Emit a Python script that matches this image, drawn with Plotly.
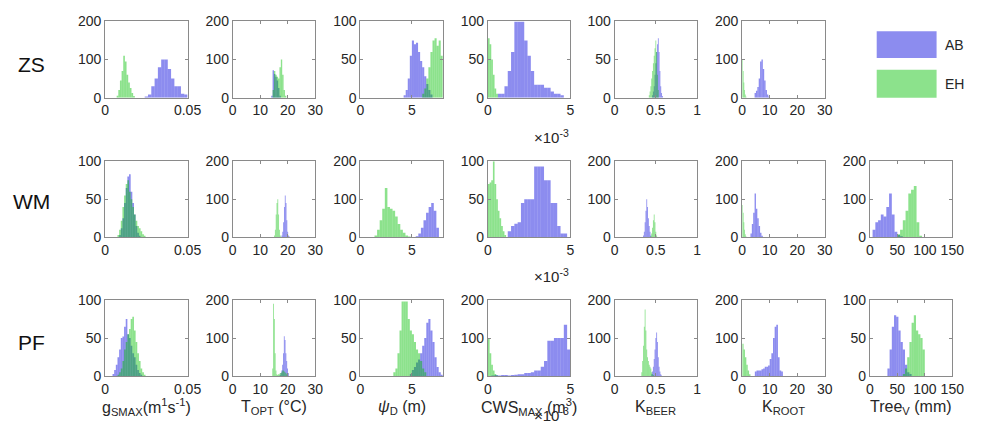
import plotly.graph_objects as go

# ---------------- data (bin centres and counts) ----------------
# ZS row
ZS_GSMAX_AB_BINS = [0.025, 0.027, 0.029, 0.031, 0.033, 0.035, 0.037, 0.039, 0.041, 0.043, 0.045, 0.047, 0.049]
ZS_GSMAX_AB_COUNTS = [3, 8, 30, 50, 80, 100, 100, 75, 50, 30, 30, 10, 8]
ZS_GSMAX_EH_BINS = [0.0075, 0.0085, 0.0095, 0.0105, 0.0115, 0.0125, 0.0135, 0.0145, 0.0155, 0.0165, 0.0175]
ZS_GSMAX_EH_COUNTS = [5, 20, 45, 70, 110, 95, 60, 40, 25, 12, 4]

ZS_TOPT_AB_BINS = [14.25, 14.75, 15.25, 15.75, 16.25, 16.75, 17.25]
ZS_TOPT_AB_COUNTS = [5, 72, 62, 55, 45, 25, 5]
ZS_TOPT_EH_BINS = [14.75, 15.25, 15.75, 16.25, 16.75, 17.25, 17.75, 18.25, 18.75, 19.25]
ZS_TOPT_EH_COUNTS = [20, 70, 60, 55, 50, 80, 100, 60, 20, 5]

ZS_PSID_AB_BINS = [4.3, 4.5, 4.7, 4.9, 5.1, 5.3, 5.5, 5.7, 5.9, 6.1, 6.3, 6.5, 6.7, 6.9]
ZS_PSID_AB_COUNTS = [3, 10, 25, 55, 75, 70, 72, 60, 48, 40, 28, 18, 10, 4]
ZS_PSID_EH_BINS = [6.1, 6.3, 6.5, 6.7, 6.9, 7.1, 7.3, 7.5, 7.7, 7.9]
ZS_PSID_EH_COUNTS = [5, 12, 25, 40, 60, 75, 78, 68, 75, 55]

ZS_CWS_AB_BINS = [0.0007, 0.0009, 0.0011, 0.0013, 0.0015, 0.0017, 0.0019, 0.0021, 0.0023, 0.0025,
                  0.0027, 0.0029, 0.0031, 0.0033, 0.0035, 0.0037, 0.0039, 0.0041, 0.0043, 0.0045]
ZS_CWS_AB_COUNTS = [5, 5, 15, 35, 60, 100, 100, 100, 75, 55, 35, 17, 17, 17, 13, 13, 8, 5, 5, 3]
ZS_CWS_EH_BINS = [0.00005, 0.00015, 0.00025, 0.00035, 0.00045, 0.00055]
ZS_CWS_EH_COUNTS = [78, 70, 50, 30, 12, 5]

ZS_KBEER_AB_BINS = [0.46, 0.47, 0.48, 0.49, 0.50, 0.51, 0.52, 0.53, 0.54, 0.55, 0.56, 0.57, 0.58]
ZS_KBEER_AB_COUNTS = [3, 8, 15, 30, 45, 60, 70, 78, 60, 35, 15, 6, 2]
ZS_KBEER_EH_BINS = [0.42, 0.43, 0.44, 0.45, 0.46, 0.47, 0.48, 0.49, 0.50, 0.51, 0.52, 0.53]
ZS_KBEER_EH_COUNTS = [3, 8, 15, 25, 35, 45, 55, 65, 75, 60, 30, 10]

ZS_KROOT_AB_BINS = [4.75, 5.25, 5.75, 6.25, 6.75, 7.25, 7.75, 8.25, 8.75, 9.25, 9.75]
ZS_KROOT_AB_COUNTS = [12, 18, 28, 50, 95, 100, 75, 45, 20, 8, 3]
ZS_KROOT_EH_BINS = [0.125, 0.375, 0.625, 0.875, 1.125, 1.375]
ZS_KROOT_EH_COUNTS = [100, 70, 40, 20, 8, 3]

# WM row
WM_GSMAX_AB_BINS = [0.009, 0.010, 0.011, 0.012, 0.013, 0.014, 0.015, 0.016, 0.017, 0.018, 0.019, 0.020, 0.021]
WM_GSMAX_AB_COUNTS = [3, 12, 25, 45, 65, 80, 83, 60, 45, 30, 15, 6, 2]
WM_GSMAX_EH_BINS = [0.008, 0.009, 0.010, 0.011, 0.012, 0.013, 0.014, 0.015, 0.016, 0.017, 0.018,
                    0.019, 0.020, 0.021, 0.022, 0.023, 0.024]
WM_GSMAX_EH_COUNTS = [3, 10, 22, 40, 55, 70, 75, 60, 50, 40, 30, 22, 15, 12, 8, 4, 2]

WM_TOPT_AB_BINS = [17.9, 18.2, 18.5, 18.8, 19.1, 19.4, 19.7, 20.0, 20.3, 20.6]
WM_TOPT_AB_COUNTS = [5, 15, 40, 80, 110, 90, 45, 15, 5, 2]
WM_TOPT_EH_BINS = [15.2, 15.5, 15.8, 16.1, 16.4, 16.7, 17.0, 17.3]
WM_TOPT_EH_COUNTS = [5, 20, 60, 90, 100, 60, 20, 5]

WM_PSID_AB_BINS = [5.5, 5.75, 6.0, 6.25, 6.5, 6.75, 7.0, 7.25, 7.5]
WM_PSID_AB_COUNTS = [3, 10, 25, 45, 65, 80, 90, 70, 25]
WM_PSID_EH_BINS = [1.5, 1.75, 2.0, 2.25, 2.5, 2.75, 3.0, 3.25, 3.5, 3.75, 4.0, 4.25, 4.5, 4.75]
WM_PSID_EH_COUNTS = [5, 20, 45, 75, 130, 80, 75, 70, 55, 35, 20, 12, 5, 2]

WM_CWS_AB_BINS = [0.0013, 0.0015, 0.0017, 0.0019, 0.0021, 0.0023, 0.0025, 0.0027, 0.0029,
                  0.0031, 0.0033, 0.0035, 0.0037, 0.0039, 0.0041, 0.0043, 0.0045, 0.0047]
WM_CWS_AB_COUNTS = [8, 15, 18, 20, 45, 50, 50, 50, 93, 93, 93, 75, 75, 45, 45, 15, 5, 5]
WM_CWS_EH_BINS = [0.00005, 0.00015, 0.00025, 0.00035, 0.00045, 0.00055, 0.00065, 0.00075, 0.00085, 0.00095, 0.00105]
WM_CWS_EH_COUNTS = [70, 72, 75, 100, 70, 50, 35, 25, 15, 8, 3]

WM_KBEER_AB_BINS = [0.35, 0.36, 0.37, 0.38, 0.39, 0.40, 0.41, 0.42, 0.43, 0.44]
WM_KBEER_AB_COUNTS = [5, 15, 40, 70, 100, 80, 50, 30, 15, 5]
WM_KBEER_EH_BINS = [0.44, 0.45, 0.46, 0.47, 0.48, 0.49, 0.50, 0.51]
WM_KBEER_EH_COUNTS = [3, 10, 25, 45, 60, 40, 15, 5]

WM_KROOT_AB_BINS = [3.25, 3.75, 4.25, 4.75, 5.25, 5.75, 6.25, 6.75, 7.25]
WM_KROOT_AB_COUNTS = [10, 35, 65, 115, 75, 50, 30, 12, 4]
WM_KROOT_EH_BINS = [0.125, 0.375, 0.625, 0.875, 1.125, 1.375]
WM_KROOT_EH_COUNTS = [85, 65, 40, 20, 8, 3]

WM_TREEV_AB_BINS = [7.5, 12.5, 17.5, 22.5, 27.5, 32.5, 37.5, 42.5, 47.5, 52.5, 57.5]
WM_TREEV_AB_COUNTS = [20, 40, 45, 60, 55, 80, 115, 60, 15, 6, 3]
WM_TREEV_EH_BINS = [52.5, 57.5, 62.5, 67.5, 72.5, 77.5, 82.5, 87.5, 92.5]
WM_TREEV_EH_COUNTS = [8, 20, 45, 70, 115, 125, 135, 40, 4]

# PF row
PF_GSMAX_AB_BINS = [0.005, 0.006, 0.007, 0.008, 0.009, 0.010, 0.011, 0.012, 0.013, 0.014, 0.015,
                    0.016, 0.017, 0.018, 0.019, 0.020, 0.021, 0.022]
PF_GSMAX_AB_COUNTS = [3, 8, 15, 25, 35, 50, 52, 65, 75, 55, 50, 40, 30, 25, 15, 8, 4, 2]
PF_GSMAX_EH_BINS = [0.008, 0.009, 0.010, 0.011, 0.012, 0.013, 0.014, 0.015, 0.016, 0.017, 0.018,
                    0.019, 0.020, 0.021, 0.022, 0.023, 0.024]
PF_GSMAX_EH_COUNTS = [2, 5, 10, 20, 35, 45, 55, 62, 75, 78, 60, 45, 30, 20, 10, 5, 2]

PF_TOPT_AB_BINS = [17.25, 17.55, 17.85, 18.15, 18.45, 18.75, 19.05, 19.35, 19.65, 19.95, 20.25]
PF_TOPT_AB_COUNTS = [3, 8, 15, 30, 60, 105, 95, 60, 40, 20, 8]
PF_TOPT_EH_BINS = [14.55, 14.85, 15.15, 15.45, 15.75, 16.05, 16.35, 16.65, 16.95, 17.25, 17.55,
                   17.85, 18.15, 18.45, 18.75, 19.05, 19.35, 19.65, 19.95]
PF_TOPT_EH_COUNTS = [20, 190, 150, 60, 15, 5, 3, 5, 5, 8, 8, 10, 15, 15, 12, 10, 8, 5, 3]

PF_PSID_AB_BINS = [4.9, 5.1, 5.3, 5.5, 5.7, 5.9, 6.1, 6.3, 6.5, 6.7, 6.9, 7.1, 7.3, 7.5, 7.7, 7.9]
PF_PSID_AB_COUNTS = [3, 8, 12, 18, 22, 30, 40, 50, 70, 75, 60, 45, 25, 12, 5, 2]
PF_PSID_EH_BINS = [3.3, 3.5, 3.7, 3.9, 4.1, 4.3, 4.5, 4.7, 4.9, 5.1, 5.3, 5.5, 5.7, 5.9, 6.1, 6.3]
PF_PSID_EH_COUNTS = [5, 10, 30, 60, 98, 98, 98, 75, 60, 55, 45, 35, 30, 20, 10, 5]

PF_CWS_AB_BINS = [0.0003, 0.0005, 0.0007, 0.0009, 0.0011, 0.0013, 0.0015, 0.0017, 0.0019, 0.0021,
                  0.0023, 0.0025, 0.0027, 0.0029, 0.0031, 0.0033, 0.0035, 0.0037, 0.0039, 0.0041,
                  0.0043, 0.0045, 0.0047, 0.0049]
PF_CWS_AB_COUNTS = [2, 3, 2, 3, 3, 2, 3, 4, 5, 5, 8, 8, 10, 15, 15, 25, 40, 93, 93, 100, 100, 100, 135, 70]
PF_CWS_EH_BINS = [0.00005, 0.00015, 0.00025, 0.00035, 0.00045, 0.00055]
PF_CWS_EH_COUNTS = [100, 60, 30, 15, 6, 2]

PF_KBEER_AB_BINS = [0.45, 0.46, 0.47, 0.48, 0.49, 0.50, 0.51, 0.52, 0.53, 0.54, 0.55, 0.56, 0.57]
PF_KBEER_AB_COUNTS = [5, 12, 25, 45, 70, 100, 115, 90, 50, 25, 12, 5, 2]
PF_KBEER_EH_BINS = [0.33, 0.34, 0.35, 0.36, 0.37, 0.38, 0.39, 0.40, 0.41, 0.42, 0.43, 0.44, 0.45, 0.46, 0.47]
PF_KBEER_EH_COUNTS = [10, 40, 80, 130, 175, 120, 70, 50, 40, 30, 25, 20, 10, 5, 3]

PF_KROOT_AB_BINS = [4.9, 5.5, 6.1, 6.7, 7.3, 7.9, 8.5, 9.1, 9.7, 10.3, 10.9, 11.5, 12.1, 12.7, 13.3, 13.9, 14.5]
PF_KROOT_AB_COUNTS = [12, 15, 15, 15, 18, 20, 25, 25, 28, 45, 60, 100, 130, 135, 50, 15, 12]
PF_KROOT_EH_BINS = [0.25, 0.75, 1.25, 1.75, 2.25, 2.75]
PF_KROOT_EH_COUNTS = [85, 70, 50, 30, 15, 5]

PF_TREEV_AB_BINS = [34, 38, 42, 46, 50, 54, 58, 62, 66, 70, 74]
PF_TREEV_AB_COUNTS = [10, 35, 65, 80, 78, 60, 45, 35, 15, 5, 3]
PF_TREEV_EH_BINS = [62, 66, 70, 74, 78, 82, 86, 90, 94, 98]
PF_TREEV_EH_COUNTS = [3, 10, 25, 45, 70, 80, 60, 55, 50, 35]

# labels / axis ticks
SITES = ["ZS", "WM", "PF"]
SERIES = ["AB", "EH"]
X_TITLES = ["g<sub>SMAX</sub>(m<sup>1</sup>s<sup>-1</sup>)", "T<sub>OPT</sub> (°C)", "<i>ψ</i><sub>D</sub> (m)",
            "CWS<sub>MAX</sub> (m<sup>3</sup>)", "K<sub>BEER</sub>", "K<sub>ROOT</sub>", "Tree<sub>V</sub> (mm)"]
X_RANGES = [[0, 0.05], [0, 30], [0, 8], [0, 0.005], [0, 1], [0, 30], [0, 150]]
X_TICKVALS = [[0, 0.05], [0, 10, 20, 30], [0, 5], [0, 0.005], [0, 0.5, 1], [0, 10, 20, 30], [0, 50, 100, 150]]
X_TICKTEXT = [["0", "0.05"], ["0", "10", "20", "30"], ["0", "5"], ["0", "5"], ["0", "0.5", "1"],
              ["0", "10", "20", "30"], ["0", "50", "100", "150"]]
Y_MAX = [[200, 200, 100, 100, 100, 200, None],
         [100, 200, 200, 100, 200, 200, 200],
         [100, 200, 100, 200, 200, 200, 100]]

PANELS = {
    (0, 0): (ZS_GSMAX_AB_BINS, ZS_GSMAX_AB_COUNTS, ZS_GSMAX_EH_BINS, ZS_GSMAX_EH_COUNTS),
    (0, 1): (ZS_TOPT_AB_BINS, ZS_TOPT_AB_COUNTS, ZS_TOPT_EH_BINS, ZS_TOPT_EH_COUNTS),
    (0, 2): (ZS_PSID_AB_BINS, ZS_PSID_AB_COUNTS, ZS_PSID_EH_BINS, ZS_PSID_EH_COUNTS),
    (0, 3): (ZS_CWS_AB_BINS, ZS_CWS_AB_COUNTS, ZS_CWS_EH_BINS, ZS_CWS_EH_COUNTS),
    (0, 4): (ZS_KBEER_AB_BINS, ZS_KBEER_AB_COUNTS, ZS_KBEER_EH_BINS, ZS_KBEER_EH_COUNTS),
    (0, 5): (ZS_KROOT_AB_BINS, ZS_KROOT_AB_COUNTS, ZS_KROOT_EH_BINS, ZS_KROOT_EH_COUNTS),
    (1, 0): (WM_GSMAX_AB_BINS, WM_GSMAX_AB_COUNTS, WM_GSMAX_EH_BINS, WM_GSMAX_EH_COUNTS),
    (1, 1): (WM_TOPT_AB_BINS, WM_TOPT_AB_COUNTS, WM_TOPT_EH_BINS, WM_TOPT_EH_COUNTS),
    (1, 2): (WM_PSID_AB_BINS, WM_PSID_AB_COUNTS, WM_PSID_EH_BINS, WM_PSID_EH_COUNTS),
    (1, 3): (WM_CWS_AB_BINS, WM_CWS_AB_COUNTS, WM_CWS_EH_BINS, WM_CWS_EH_COUNTS),
    (1, 4): (WM_KBEER_AB_BINS, WM_KBEER_AB_COUNTS, WM_KBEER_EH_BINS, WM_KBEER_EH_COUNTS),
    (1, 5): (WM_KROOT_AB_BINS, WM_KROOT_AB_COUNTS, WM_KROOT_EH_BINS, WM_KROOT_EH_COUNTS),
    (1, 6): (WM_TREEV_AB_BINS, WM_TREEV_AB_COUNTS, WM_TREEV_EH_BINS, WM_TREEV_EH_COUNTS),
    (2, 0): (PF_GSMAX_AB_BINS, PF_GSMAX_AB_COUNTS, PF_GSMAX_EH_BINS, PF_GSMAX_EH_COUNTS),
    (2, 1): (PF_TOPT_AB_BINS, PF_TOPT_AB_COUNTS, PF_TOPT_EH_BINS, PF_TOPT_EH_COUNTS),
    (2, 2): (PF_PSID_AB_BINS, PF_PSID_AB_COUNTS, PF_PSID_EH_BINS, PF_PSID_EH_COUNTS),
    (2, 3): (PF_CWS_AB_BINS, PF_CWS_AB_COUNTS, PF_CWS_EH_BINS, PF_CWS_EH_COUNTS),
    (2, 4): (PF_KBEER_AB_BINS, PF_KBEER_AB_COUNTS, PF_KBEER_EH_BINS, PF_KBEER_EH_COUNTS),
    (2, 5): (PF_KROOT_AB_BINS, PF_KROOT_AB_COUNTS, PF_KROOT_EH_BINS, PF_KROOT_EH_COUNTS),
    (2, 6): (PF_TREEV_AB_BINS, PF_TREEV_AB_COUNTS, PF_TREEV_EH_BINS, PF_TREEV_EH_COUNTS),
}

# ---------------- styling / layout ----------------
W, H = 982, 442
COL_LEFT = [103, 233, 363, 493, 622, 752, 882]
ROW_TOP = [14, 159, 303]
PW, PH = 84, 79
AB_COLOR = "rgba(0,0,220,0.45)"
EH_COLOR = "rgba(0,190,0,0.45)"
TXT = "#262626"
AXC = "#8a8a8a"
FONT = "Liberation Sans, Arial, sans-serif"


def px(x):
    return x / W


def py(y):
    return 1 - y / H


fig = go.Figure()
layout = dict(
    width=W, height=H, margin=dict(l=0, r=0, t=0, b=0),
    paper_bgcolor="white", plot_bgcolor="white", barmode="overlay", showlegend=False,
    font=dict(family=FONT, size=14, color=TXT),
)

k = 0
for r in range(3):
    for c in range(7):
        if (r, c) not in PANELS:
            continue
        k += 1
        xa = "x" if k == 1 else f"x{k}"
        ya = "y" if k == 1 else f"y{k}"
        ab_x, ab_n, eh_x, eh_n = PANELS[(r, c)]
        for bins, counts, color, name in ((ab_x, ab_n, AB_COLOR, SERIES[0]), (eh_x, eh_n, EH_COLOR, SERIES[1])):
            w = bins[1] - bins[0]
            fig.add_trace(go.Bar(x=bins, y=counts, width=w, name=name, xaxis=xa, yaxis=ya,
                                 marker=dict(color=color, line=dict(width=0)), showlegend=False))
        ymax = Y_MAX[r][c]
        common = dict(showgrid=False, zeroline=False, showline=True, mirror="ticks", linecolor=AXC,
                      linewidth=1, ticks="inside", ticklen=3, tickcolor=AXC,
                      tickfont=dict(size=14, color=TXT, family=FONT), fixedrange=True)
        layout["xaxis" if k == 1 else f"xaxis{k}"] = dict(
            domain=[px(COL_LEFT[c]), px(COL_LEFT[c] + PW)], anchor=ya, range=X_RANGES[c],
            tickmode="array", tickvals=X_TICKVALS[c], ticktext=X_TICKTEXT[c], **common)
        layout["yaxis" if k == 1 else f"yaxis{k}"] = dict(
            domain=[py(ROW_TOP[r] + PH), py(ROW_TOP[r])], anchor=xa, range=[0, ymax],
            tickmode="array", tickvals=[0, ymax // 2, ymax], **common)

fig.update_layout(**layout)

ann = []
ROW_LABEL_Y = [59, 201, 347]
for r, s in enumerate(SITES):
    ann.append(dict(x=px(28), y=py(ROW_LABEL_Y[r]), xref="paper", yref="paper", text=s, showarrow=False,
                    xanchor="center", yanchor="middle", font=dict(size=21, color="#111", family=FONT)))
for r in range(3):
    ann.append(dict(x=px(COL_LEFT[3] + PW + 1), y=py(ROW_TOP[r] + PH + 40), xref="paper", yref="paper",
                    text="×10<sup>-3</sup>", showarrow=False, xanchor="right", yanchor="middle",
                    font=dict(size=15, color=TXT, family=FONT)))
for c, t in enumerate(X_TITLES):
    ann.append(dict(x=px(COL_LEFT[c] + PW / 2), y=py(414), xref="paper", yref="paper", text=t,
                    showarrow=False, xanchor="center", yanchor="middle",
                    font=dict(size=16, color=TXT, family=FONT)))

# legend (drawn as patches + labels)
shapes = []
LEG_Y = [(24, 52), (64, 93)]
for (y0, y1), color, name in zip(LEG_Y, (AB_COLOR, EH_COLOR), SERIES):
    shapes.append(dict(type="rect", xref="paper", yref="paper", x0=px(889), x1=px(950), y0=py(y1), y1=py(y0),
                       fillcolor=color, line=dict(width=0)))
    ann.append(dict(x=px(957), y=py((y0 + y1) / 2), xref="paper", yref="paper", text=name, showarrow=False,
                    xanchor="left", yanchor="middle", font=dict(size=14, color=TXT, family=FONT)))

fig.update_layout(annotations=ann, shapes=shapes)
fig.write_html("out.html", config={"displayModeBar": False},
               post_script="document.body.style.margin='0';document.body.style.overflow='hidden';")
